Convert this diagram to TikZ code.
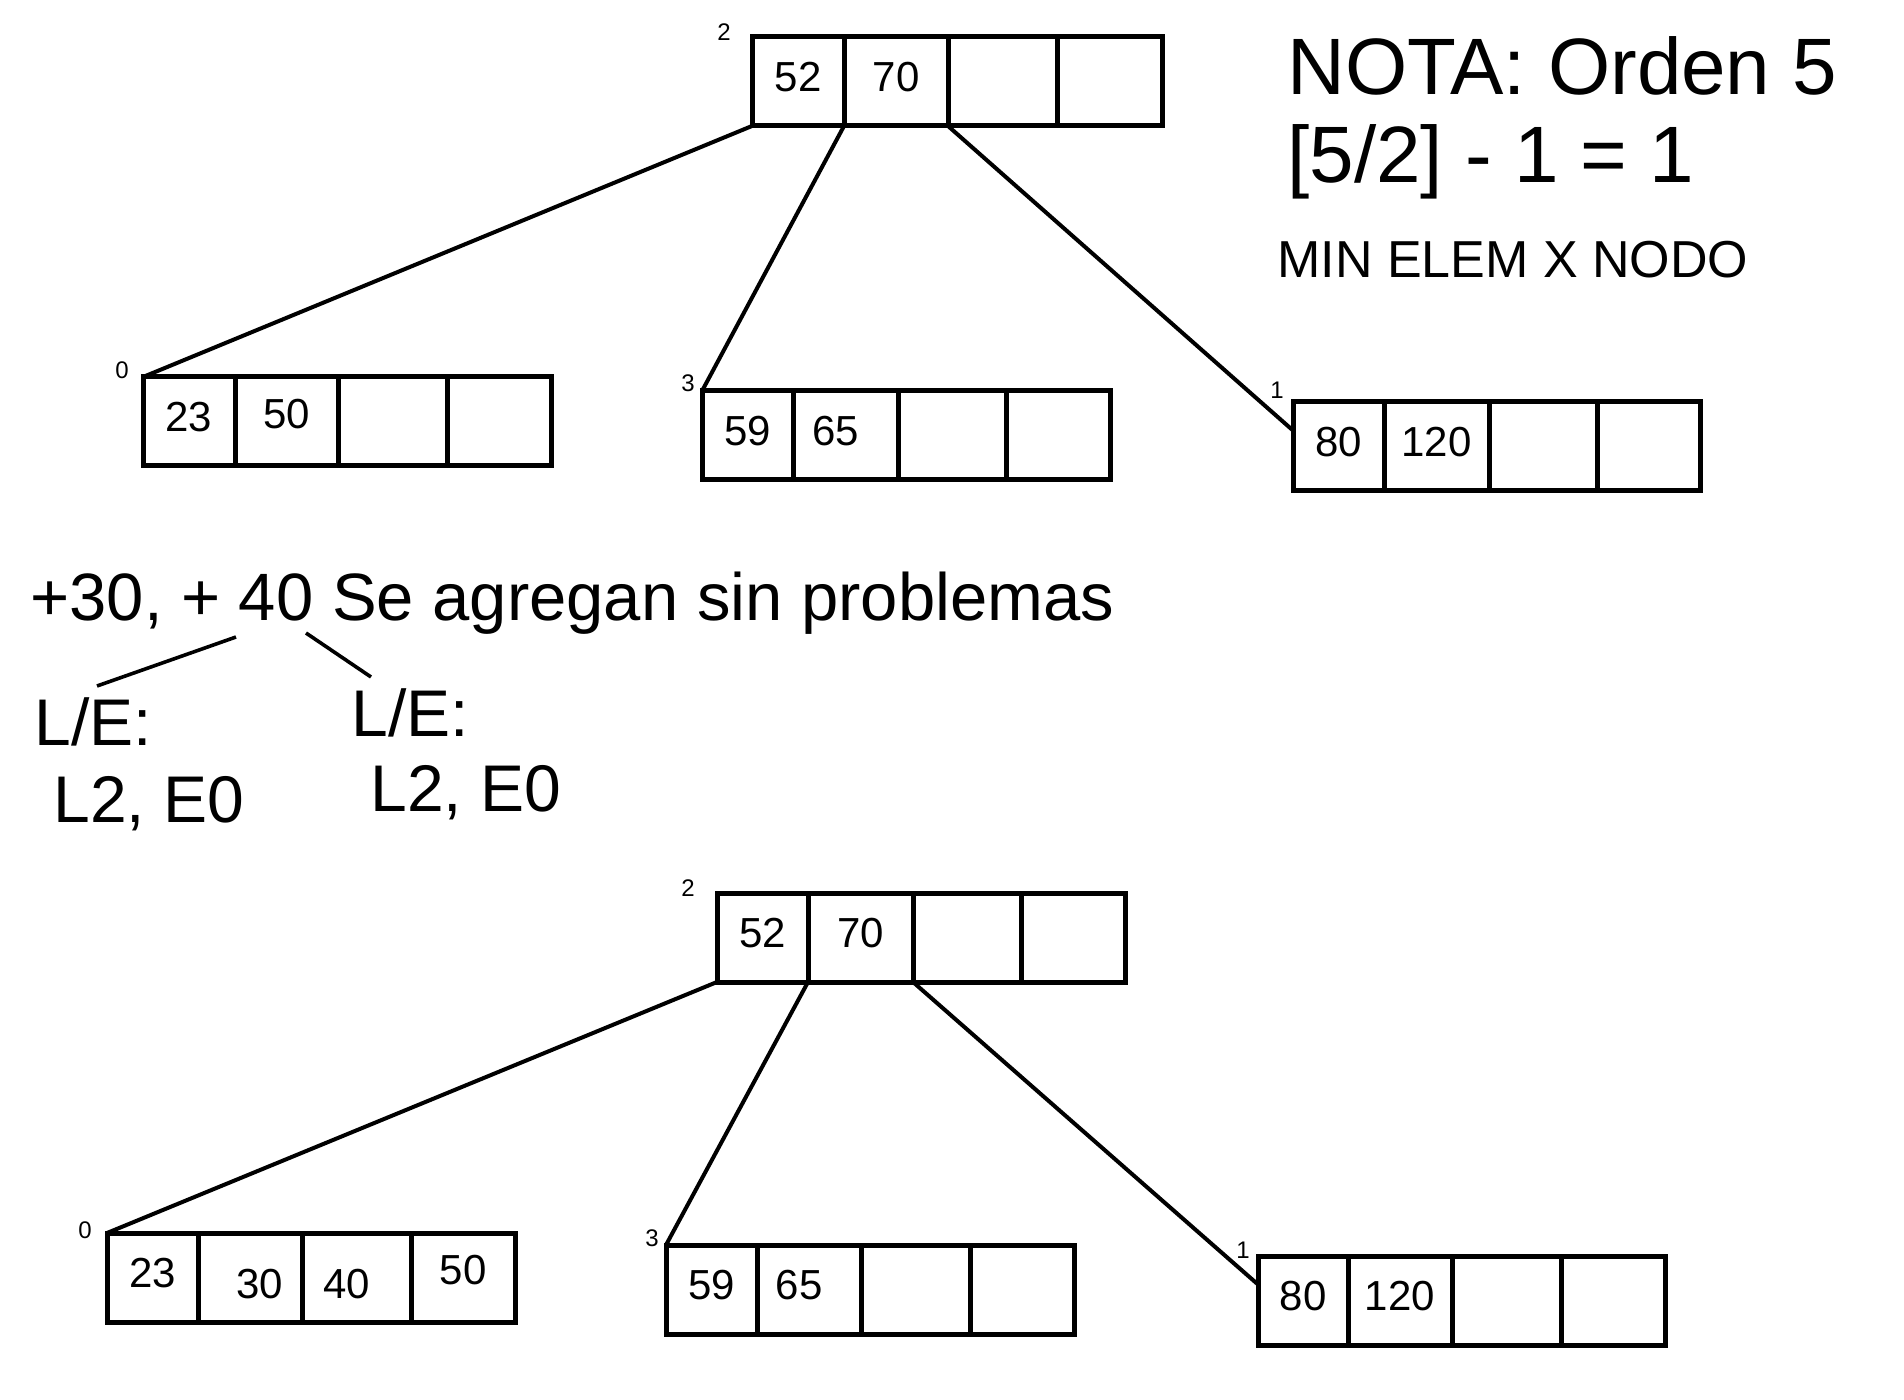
\documentclass[tikz,border=0pt]{standalone}
\usepackage{fontspec}
\setmainfont{Liberation Sans}
\usepackage{tikz}
\usetikzlibrary{positioning}

\begin{document}
\begin{tikzpicture}[x=0.5pt,y=-0.5pt,
    cell/.style={draw,line width=2.5pt,minimum height=44.5pt,inner sep=0pt,outer sep=0pt,
        text height=15pt,text depth=5pt,font=\fontsize{21}{24}\selectfont},
    high/.style={text height=15pt,text depth=8pt},
    low/.style={text height=21pt,text depth=0pt},
    tag/.style={inner sep=0pt,font=\fontsize{12}{14}\selectfont},
    note/.style={anchor=base west,inner sep=0pt},
    link/.style={line width=2pt}]
    \useasboundingbox (0,0) rectangle (1904,1400);

    % arbol antes
    \node[cell,minimum width=46pt,anchor=north west] (r1) at (752,37) {52};
    \node[cell,minimum width=52pt,right=0pt of r1] (r2) {70};
    \node[cell,minimum width=54.5pt,right=0pt of r2] (r3) {};
    \node[cell,minimum width=52.5pt,right=0pt of r3] (r4) {};
    \node[tag] (rt) at (724,32) {2};

    \node[cell,minimum width=46pt,anchor=north west] (a1) at (143,377) {23};
    \node[cell,high,minimum width=51.5pt,right=0pt of a1] (a2) {50};
    \node[cell,minimum width=54.5pt,right=0pt of a2] (a3) {};
    \node[cell,minimum width=52pt,right=0pt of a3] (a4) {};
    \node[tag] (at) at (122,370) {0};

    \node[cell,minimum width=45.5pt,anchor=north west] (b1) at (702,391) {59};
    \node[cell,minimum width=52.5pt,right=0pt of b1] (b2) {\hspace*{-10pt}65};
    \node[cell,minimum width=54pt,right=0pt of b2] (b3) {};
    \node[cell,minimum width=52pt,right=0pt of b3] (b4) {};
    \node[tag] (bt) at (688,383) {3};

    \node[cell,minimum width=45.5pt,anchor=north west] (c1) at (1293,402) {80};
    \node[cell,minimum width=52.5pt,right=0pt of c1] (c2) {120};
    \node[cell,minimum width=54pt,right=0pt of c2] (c3) {};
    \node[cell,minimum width=51.5pt,right=0pt of c3] (c4) {};
    \node[tag] (ct) at (1277,390) {1};

    \draw[link] (r1.south west) -- (a1.north west);
    \draw[link] (r1.south east) -- (b1.north west);
    \draw[link] (r2.south east) -- ([yshift=8pt]c1.west);

    % nota
    \node[note,font=\fontsize{40}{48}\selectfont] (nota) at (1287,95) {NOTA: Orden 5};
    \node[note,font=\fontsize{40}{48}\selectfont] (calc) at (1287,183) {[5/2] - 1 = 1};
    \node[note,font=\fontsize{26}{30}\selectfont] (min) at (1277,278) {MIN ELEM X NODO};

    % inserciones
    \node[note,font=\fontsize{33.5}{40}\selectfont] (ins) at (30,620) {+30, + 40 Se agregan sin problemas};
    \node[note,font=\fontsize{33}{40}\selectfont] (le1) at (34,745) {L/E:};
    \node[note,font=\fontsize{33}{40}\selectfont] (v1) at (53,822) {L2, E0};
    \node[note,font=\fontsize{33}{40}\selectfont] (le2) at (351,736) {L/E:};
    \node[note,font=\fontsize{33}{40}\selectfont] (v2) at (370,811) {L2, E0};
    \coordinate (p1) at (236,637);
    \coordinate (q1) at (97,686);
    \coordinate (p2) at (306,633);
    \coordinate (q2) at (371,677);
    \draw[line width=1.8pt] (p1) -- (q1);
    \draw[line width=1.8pt] (p2) -- (q2);

    % arbol despues
    \node[cell,minimum width=45.5pt,anchor=north west] (s1) at (717,893) {52};
    \node[cell,minimum width=52.5pt,right=0pt of s1] (s2) {70};
    \node[cell,minimum width=54pt,right=0pt of s2] (s3) {};
    \node[cell,minimum width=52pt,right=0pt of s3] (s4) {};
    \node[tag] (st) at (688,888) {2};

    \node[cell,minimum width=45.5pt,anchor=north west] (d1) at (107,1233) {23};
    \node[cell,low,minimum width=52pt,right=0pt of d1] (d2) {\hspace*{10pt}30};
    \node[cell,low,minimum width=54.5pt,right=0pt of d2] (d3) {\hspace*{-10pt}40};
    \node[cell,high,minimum width=52pt,right=0pt of d3] (d4) {50};
    \node[tag] (dt) at (85,1230) {0};

    \node[cell,minimum width=45.5pt,anchor=north west] (e1) at (666,1245) {59};
    \node[cell,minimum width=52pt,right=0pt of e1] (e2) {\hspace*{-10pt}65};
    \node[cell,minimum width=54.5pt,right=0pt of e2] (e3) {};
    \node[cell,minimum width=52pt,right=0pt of e3] (e4) {};
    \node[tag] (et) at (652,1238) {3};

    \node[cell,minimum width=45pt,anchor=north west] (f1) at (1258,1256) {80};
    \node[cell,minimum width=52pt,right=0pt of f1] (f2) {120};
    \node[cell,minimum width=54.5pt,right=0pt of f2] (f3) {};
    \node[cell,minimum width=52pt,right=0pt of f3] (f4) {};
    \node[tag] (ft) at (1243,1250) {1};

    \draw[link] (s1.south west) -- (d1.north west);
    \draw[link] (s1.south east) -- (e1.north west);
    \draw[link] (s2.south east) -- ([yshift=8pt]f1.west);
\end{tikzpicture}
\end{document}
